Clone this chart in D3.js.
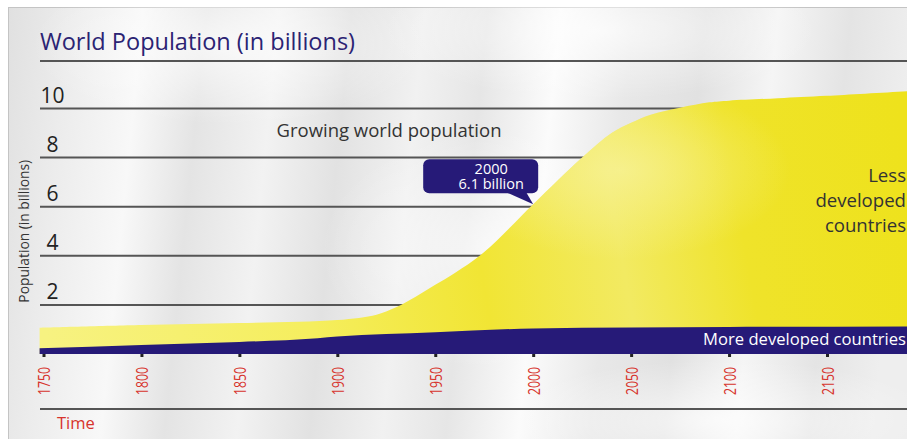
<!DOCTYPE html>
<html>
<head>
<meta charset="utf-8">
<script src="https://cdn.jsdelivr.net/npm/d3@7"></script>
<style>
  body { margin: 0; background: #fff; overflow: hidden; }
  svg { display: block; font-family: "Open Sans", "Noto Sans", sans-serif; }
</style>
</head>
<body>
<svg id="chart" width="907" height="439"></svg>
<script>
// World population, in billions: all countries and the more developed ones
const years = [1748, 1800, 1850, 1900, 1920, 1930, 1940, 1950, 1960, 1975, 2000, 2025, 2040, 2050, 2060, 2075, 2090, 2100, 2125, 2150, 2200];
const totalPopulation = [1.07, 1.18, 1.26, 1.38, 1.6, 1.9, 2.33, 2.82, 3.3, 4.15, 6.1, 8.0, 9.0, 9.42, 9.75, 10.03, 10.25, 10.32, 10.42, 10.52, 10.75];
const developedYears = [1748, 1800, 1850, 1890, 1900, 1950, 2000, 2050, 2100, 2200];
const developedPopulation = [0.23, 0.37, 0.49, 0.64, 0.71, 0.89, 1.04, 1.08, 1.10, 1.12];
const yTicks = [2, 4, 6, 8, 10];
const xTicks = [1750, 1800, 1850, 1900, 1950, 2000, 2050, 2100, 2150];
const calloutYear = 2000;
const calloutValue = 6.1;
const calloutLines = ["2000", "6.1 billion"];
const lessDevelopedLines = ["Less", "developed", "countries"];

const W = 907, H = 439;
const svg = d3.select("#chart");
const defs = svg.append("defs");

// brushed-silver panel
const bg = defs.append("linearGradient").attr("id", "silver")
  .attr("gradientUnits", "userSpaceOnUse")
  .attr("x1", 8).attr("y1", 0).attr("x2", 907).attr("y2", 90);
[[0, "#e0e0e0"], [0.07, "#ececec"], [0.15, "#f8f8f8"], [0.22, "#e4e4e4"], [0.3, "#f2f2f2"],
 [0.38, "#e2e2e2"], [0.46, "#f1f1f1"], [0.53, "#e6e6e6"], [0.61, "#fbfbfb"], [0.69, "#e8e8e8"],
 [0.77, "#e1e1e1"], [0.85, "#f5f5f5"], [0.93, "#e4e4e4"], [1, "#eeeeee"]]
  .forEach(([o, c]) => bg.append("stop").attr("offset", o).attr("stop-color", c));

const glow = defs.append("radialGradient").attr("id", "glow")
  .attr("cx", 0.5).attr("cy", 0.5).attr("r", 0.5);
glow.append("stop").attr("offset", 0).attr("stop-color", "#fff").attr("stop-opacity", 0.7);
glow.append("stop").attr("offset", 1).attr("stop-color", "#fff").attr("stop-opacity", 0);

// yellow fill with soft sheen
const yg = defs.append("linearGradient").attr("id", "yellow")
  .attr("gradientUnits", "userSpaceOnUse")
  .attr("x1", 40).attr("y1", 300).attr("x2", 907).attr("y2", 150);
[[0, "#f7f281"], [0.3, "#f5ee5e"], [0.5, "#f1e534"], [0.66, "#f2ea62"], [0.8, "#efe32a"], [1, "#eee21c"]]
  .forEach(([o, c]) => yg.append("stop").attr("offset", o).attr("stop-color", c));
const ysheen = defs.append("radialGradient").attr("id", "ysheen")
  .attr("cx", 0.5).attr("cy", 0.5).attr("r", 0.5);
ysheen.append("stop").attr("offset", 0).attr("stop-color", "#f8f3a0").attr("stop-opacity", 0.7);
ysheen.append("stop").attr("offset", 1).attr("stop-color", "#f8f3a0").attr("stop-opacity", 0);

svg.append("rect").attr("width", W).attr("height", H).attr("fill", "#fff");
svg.append("rect").attr("x", 8.5).attr("y", 7.5).attr("width", W).attr("height", H)
  .attr("fill", "url(#silver)").attr("stroke", "#c4c4c4");
[[230, 45, 200, 80], [600, 30, 220, 70], [500, 250, 180, 120], [720, 420, 220, 60]]
  .forEach(([cx, cy, rx, ry]) => svg.append("ellipse").attr("cx", cx).attr("cy", cy)
    .attr("rx", rx).attr("ry", ry).attr("fill", "url(#glow)"));

const x = d3.scaleLinear().domain([1750, 2150]).range([43.5, 827]);
const y = d3.scaleLinear().domain([0, 10]).range([354, 108.5]);

const left = 40;

// title and its rule
svg.append("text").attr("x", left).attr("y", 50)
  .attr("fill", "#2b2373").attr("font-size", 23.5)
  .text("World Population (in billions)");
svg.append("line").attr("x1", left).attr("x2", W).attr("y1", 61).attr("y2", 61)
  .attr("stroke", "#555").attr("stroke-width", 2);

// horizontal rules with values above them
const grid = svg.append("g");
grid.selectAll("line").data(yTicks).join("line")
  .attr("x1", left).attr("x2", W)
  .attr("y1", d => y(d)).attr("y2", d => y(d))
  .attr("stroke", "#555").attr("stroke-width", 2);
grid.selectAll("text").data(yTicks).join("text")
  .attr("x", 52.5).attr("y", d => y(d) - 6)
  .attr("text-anchor", "middle").attr("font-size", 21).attr("fill", "#222")
  .text(d => d);

svg.append("text")
  .attr("transform", `translate(29,${y(5)}) rotate(-90)`)
  .attr("text-anchor", "middle").attr("font-size", 13.8).attr("fill", "#333")
  .text("Population (in billions)");

svg.append("text").attr("x", 389).attr("y", 137)
  .attr("text-anchor", "middle").attr("font-size", 18.5).attr("fill", "#333")
  .text("Growing world population");

// population areas
const totalArea = d3.area()
  .x((d, i) => x(years[i])).y0(y(0)).y1(d => y(d))
  .curve(d3.curveCatmullRom.alpha(0.5));
svg.append("path").datum(totalPopulation).attr("d", totalArea).attr("fill", "url(#yellow)");
svg.append("clipPath").attr("id", "totalClip")
  .append("path").datum(totalPopulation).attr("d", totalArea);
svg.append("ellipse").attr("clip-path", "url(#totalClip)")
  .attr("cx", 620).attr("cy", 170).attr("rx", 170).attr("ry", 90)
  .attr("fill", "url(#ysheen)");

const developedArea = d3.area()
  .x((d, i) => x(developedYears[i])).y0(y(0)).y1(d => y(d))
  .curve(d3.curveMonotoneX);
svg.append("path").datum(developedPopulation).attr("d", developedArea).attr("fill", "#261a78");

svg.append("text").attr("x", 906).attr("y", 345)
  .attr("text-anchor", "end").attr("font-size", 16.6).attr("fill", "#fff")
  .text("More developed countries");

const less = svg.append("text")
  .attr("text-anchor", "end").attr("font-size", 18.6).attr("fill", "#333");
less.selectAll("tspan").data(lessDevelopedLines).join("tspan")
  .attr("x", 906).attr("y", (d, i) => 182 + i * 25)
  .text(d => d);

// time axis
const xAxis = svg.append("g").attr("transform", `translate(0,${y(0)})`)
  .call(d3.axisBottom(x).tickValues(xTicks).tickSize(3).tickFormat(d3.format("d")));
xAxis.select(".domain").remove();
xAxis.selectAll(".tick line").attr("stroke", "#222").attr("stroke-width", 3);
xAxis.selectAll(".tick text")
  .attr("transform", "rotate(-90)")
  .attr("x", -41).attr("y", 0).attr("dy", "0.36em")
  .attr("text-anchor", "start")
  .attr("font-size", 17).attr("font-family", "'Open Sans', sans-serif")
  .attr("textLength", 28).attr("lengthAdjust", "spacingAndGlyphs")
  .attr("fill", "#d7332c");

svg.append("line").attr("x1", left).attr("x2", W).attr("y1", 409).attr("y2", 409)
  .attr("stroke", "#555").attr("stroke-width", 2);
svg.append("text").attr("x", 57).attr("y", 429)
  .attr("font-size", 16.5).attr("fill", "#d7332c").text("Time");

// callout for the year 2000
const tipX = x(calloutYear), tipY = y(calloutValue);
const callout = svg.append("g");
callout.append("rect")
  .attr("x", tipX - 110).attr("y", tipY - 45).attr("width", 115).attr("height", 34)
  .attr("rx", 6).attr("fill", "#261a78");
callout.append("path")
  .attr("d", `M${tipX - 27},${tipY - 12} L${tipX - 7},${tipY - 12} L${tipX},${tipY} Z`)
  .attr("fill", "#261a78");
const calloutText = callout.append("text")
  .attr("text-anchor", "middle").attr("font-size", 14.5).attr("fill", "#fff");
calloutText.selectAll("tspan").data(calloutLines).join("tspan")
  .attr("x", tipX - 42).attr("y", (d, i) => tipY - 30 + i * 15)
  .text(d => d);
</script>
</body>
</html>
